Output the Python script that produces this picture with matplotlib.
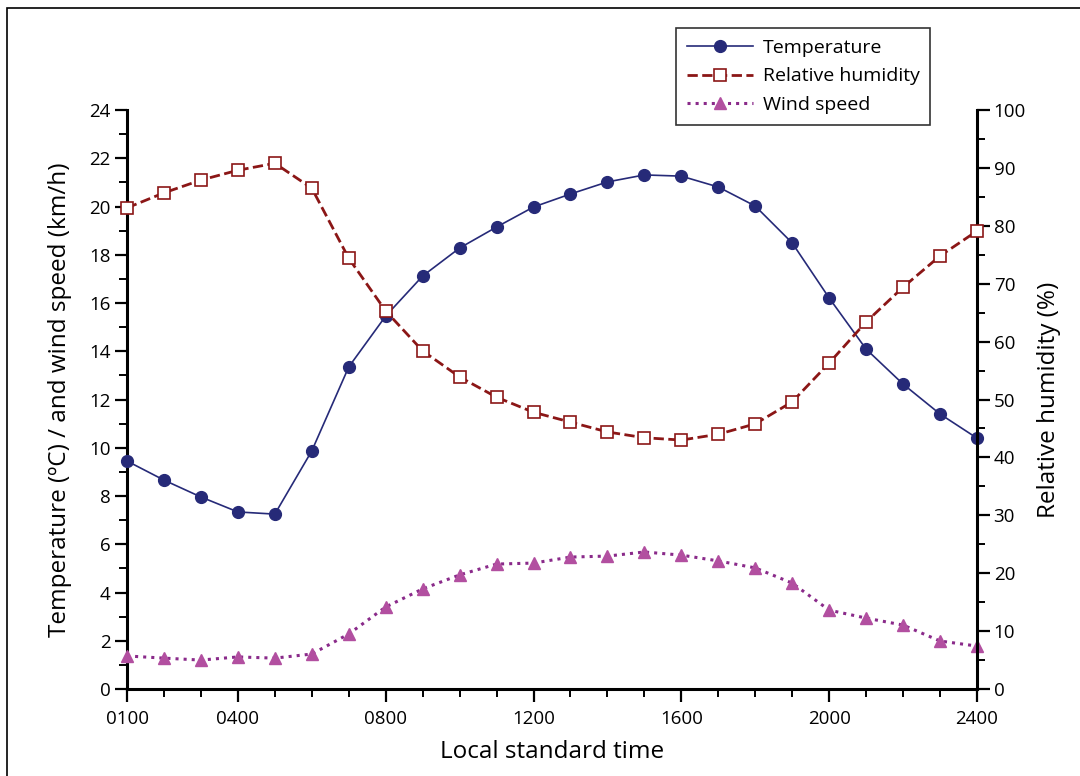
import matplotlib
matplotlib.use("Agg")
import matplotlib.pyplot as plt
from matplotlib.ticker import MultipleLocator, FixedLocator
from matplotlib.patches import Rectangle

plt.rcParams['font.family'] = ['Open Sans', 'DejaVu Sans']

hours = list(range(1, 25))
temperature = [9.45, 8.66, 7.96, 7.34, 7.25, 9.87, 13.35, 15.46, 17.12, 18.28, 19.15, 19.98,
               20.52, 21.02, 21.31, 21.26, 20.81, 20.02, 18.49, 16.21, 14.09, 12.64, 11.40, 10.40]
humidity = [83.1, 85.7, 87.9, 89.6, 90.8, 86.5, 74.4, 65.3, 58.4, 53.9, 50.4, 47.8,
            46.1, 44.4, 43.4, 43.0, 44.0, 45.8, 49.6, 56.3, 63.4, 69.4, 74.8, 79.1]
wind = [1.37, 1.28, 1.20, 1.33, 1.28, 1.45, 2.28, 3.40, 4.15, 4.73, 5.18, 5.22,
        5.47, 5.51, 5.68, 5.55, 5.31, 5.02, 4.39, 3.27, 2.94, 2.65, 1.99, 1.78]
xtick_pos = [1, 4, 8, 12, 16, 20, 24]
xtick_labels = ['0100', '0400', '0800', '1200', '1600', '2000', '2400']

fig = plt.figure(figsize=(10.8, 7.76), dpi=100)
ax = fig.add_axes([0.1176, 0.1121, 0.7870, 0.7461])
ax2 = ax.twinx()

navy = '#262a78'
red = '#8b1616'
mag = '#b24fa0'
purp = '#8a2a8a'

lt, = ax.plot(hours, temperature, '-', color=navy, lw=1.2, marker='o', ms=8.5,
              markerfacecolor=navy, markeredgecolor=navy, label='Temperature', clip_on=False, zorder=5)
lw_, = ax.plot(hours, wind, ':', color=purp, lw=2.2, marker='^', ms=8.5,
               markerfacecolor=mag, markeredgecolor=mag, label='Wind speed', clip_on=False, zorder=4)
lh, = ax2.plot(hours, humidity, '--', color=red, lw=2.0, marker='s', ms=8.5,
               markerfacecolor='white', markeredgecolor=red, markeredgewidth=1.2,
               label='Relative humidity', clip_on=False, zorder=4)

ax.set_xlim(1, 24)
ax.set_ylim(0, 24)
ax2.set_ylim(0, 100)

ax.xaxis.set_major_locator(FixedLocator(xtick_pos))
ax.set_xticklabels(xtick_labels)
ax.xaxis.set_minor_locator(MultipleLocator(1))
ax.yaxis.set_major_locator(MultipleLocator(2))
ax.yaxis.set_minor_locator(MultipleLocator(1))
ax2.yaxis.set_major_locator(MultipleLocator(10))
ax2.yaxis.set_minor_locator(MultipleLocator(5))

for a in (ax, ax2):
    a.spines['top'].set_visible(False)
    for s in ('left', 'right', 'bottom'):
        a.spines[s].set_linewidth(2.2)
    a.tick_params(which='major', direction='out', length=9, width=1.6, labelsize=13.5, pad=3)
    a.tick_params(which='minor', direction='out', length=6, width=1.4)
ax.spines['right'].set_visible(False)
ax2.spines['left'].set_visible(False)
ax2.spines['bottom'].set_visible(False)
ax.tick_params(axis='x', which='major', pad=6)

ax.set_xlabel('Local standard time', fontsize=17.5, labelpad=9)
ax.set_ylabel('Temperature (ºC) / and wind speed (km/h)', fontsize=17.5, labelpad=12)
ax2.set_ylabel('Relative humidity (%)', fontsize=17.5, labelpad=8)

leg = fig.legend(handles=[lt, lh, lw_], loc='upper left', bbox_to_anchor=(676/1080, 1 - 28/776),
                 fontsize=14, frameon=True, fancybox=False, handlelength=3.4,
                 borderpad=0.55, labelspacing=0.55, handletextpad=0.5, borderaxespad=0)
leg.get_frame().set_edgecolor('black')
leg.get_frame().set_linewidth(1.2)

fig.patches.append(Rectangle((7/1080, -0.05), 1.2, 1 - 8/776 + 0.05, transform=fig.transFigure,
                             fill=False, edgecolor='black', linewidth=1.2, clip_on=False))

fig.savefig('out.png', dpi=100)
